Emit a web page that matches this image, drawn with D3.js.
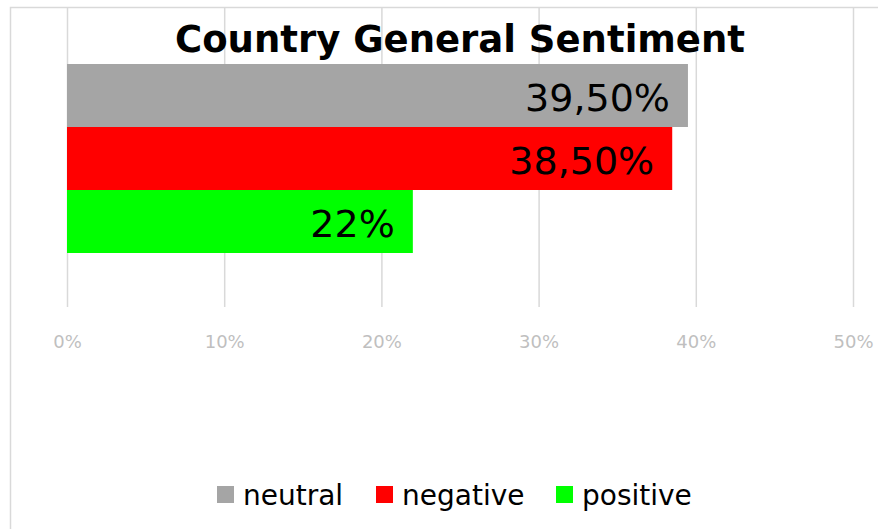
<!DOCTYPE html>
<html>
<head>
<meta charset="utf-8">
<script src="https://cdn.jsdelivr.net/npm/d3@7"></script>
<style>
  html, body { margin: 0; padding: 0; background: #fff; }
  svg { display: block; font-family: "DejaVu Sans", Verdana, sans-serif; }
</style>
</head>
<body>
<svg id="chart" width="878" height="529"></svg>
<script>
const title = "Country General Sentiment";
const series = ["neutral", "negative", "positive"];
const values = [0.395, 0.385, 0.22];
const valueLabels = ["39,50%", "38,50%", "22%"];
const colors = ["#a5a5a5", "#ff0000", "#00ff00"];
const ticks = [0, 0.1, 0.2, 0.3, 0.4, 0.5];
const tickLabels = ["0%", "10%", "20%", "30%", "40%", "50%"];

const svg = d3.select("#chart");

// outer chart border (partially cropped)
svg.append("rect")
  .attr("x", 10.5).attr("y", 7.5)
  .attr("width", 1000).attr("height", 1000)
  .attr("fill", "none").attr("stroke", "#d9d9d9").attr("stroke-width", 1.5);

const x = d3.scaleLinear().domain([0, 0.5]).range([67, 853]);
const y = d3.scaleBand().domain(series).range([64, 253]).paddingInner(0);

const plotTop = 8, plotBottom = 307;

// gridlines
const xAxis = d3.axisBottom(x).tickValues(ticks)
  .tickFormat((d, i) => tickLabels[i])
  .tickSize(-(plotBottom - plotTop)).tickPadding(0);
const gx = svg.append("g").attr("transform", `translate(0,${plotBottom})`).call(xAxis);
gx.select(".domain").remove();
gx.selectAll(".tick line").attr("stroke", "#d9d9d9").attr("stroke-width", 1.5);
gx.selectAll(".tick text")
  .attr("y", 41).attr("dy", 0)
  .attr("fill", "#bfbfbf")
  .attr("font-size", 18)
  .attr("font-family", "DejaVu Sans, Verdana, sans-serif");

// bars
svg.append("g").selectAll("rect")
  .data(series)
  .join("rect")
  .attr("x", x(0))
  .attr("y", d => y(d))
  .attr("width", (d, i) => x(values[i]) - x(0))
  .attr("height", y.bandwidth())
  .attr("fill", (d, i) => colors[i]);

// value labels
svg.append("g").selectAll("text")
  .data(series)
  .join("text")
  .attr("x", (d, i) => x(values[i]) - 18)
  .attr("y", d => y(d) + y.bandwidth() / 2 + 15)
  .attr("text-anchor", "end")
  .attr("font-size", 38)
  .attr("fill", "#000")
  .text((d, i) => valueLabels[i]);

// title
svg.append("text")
  .attr("x", 460).attr("y", 52)
  .attr("text-anchor", "middle")
  .attr("font-size", 37)
  .attr("font-weight", "bold")
  .attr("fill", "#000")
  .text(title);

// legend
const legendX = [217, 376, 556];
const lg = svg.append("g").selectAll("g")
  .data(series)
  .join("g")
  .attr("transform", (d, i) => `translate(${legendX[i]},486)`);
lg.append("rect")
  .attr("width", 17).attr("height", 17)
  .attr("fill", (d, i) => colors[i]);
lg.append("text")
  .attr("x", 26).attr("y", 19)
  .attr("font-size", 28)
  .attr("fill", "#000")
  .text(d => d);
</script>
</body>
</html>
